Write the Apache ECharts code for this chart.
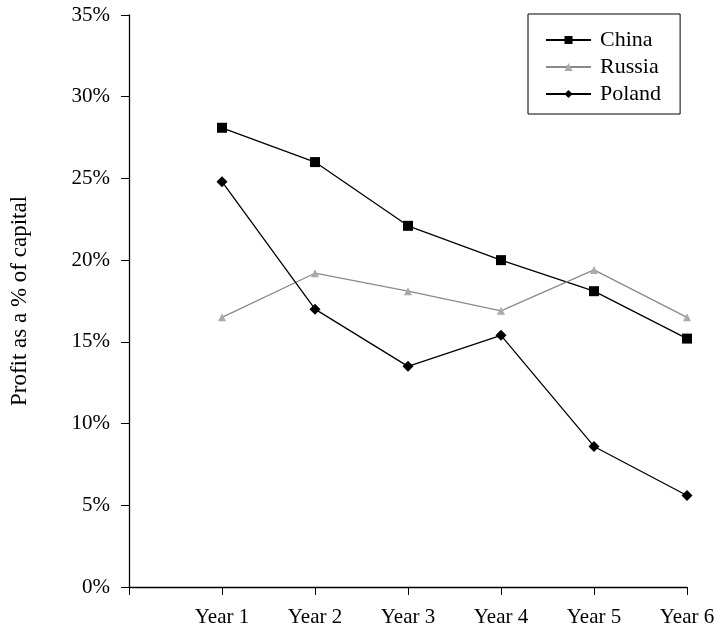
<!DOCTYPE html>
<html><head><meta charset="utf-8">
<script src="https://cdn.jsdelivr.net/npm/echarts@6/dist/echarts.min.js"></script>
<style>html,body{margin:0;padding:0;background:#fff}#c{width:715px;height:631px}</style>
</head><body><div id="c"></div>
<script>
const categories = ["", "Year 1", "Year 2", "Year 3", "Year 4", "Year 5", "Year 6"];
const china = [null, 28.1, 26.0, 22.1, 20.0, 18.1, 15.2];
const russia = [null, 16.5, 19.2, 18.1, 16.9, 19.4, 16.5];
const poland = [null, 24.8, 17.0, 13.5, 15.4, 8.6, 5.6];
const yTicks = [0, 5, 10, 15, 20, 25, 30, 35];

const font = "'Liberation Serif', 'DejaVu Serif', serif";
const chart = echarts.init(document.getElementById('c'));
chart.setOption({
  animation: false,
  textStyle: { fontFamily: font, color: '#000' },
  grid: { left: 129, right: 28, top: 15, bottom: 44, outerBoundsMode: 'none', containLabel: false },
  legend: {
    orient: 'vertical', left: 528, top: 14,
    padding: [15, 19, 9, 17],
    itemWidth: 45, itemHeight: 10, itemGap: 5,
    borderColor: '#000', borderWidth: 1,
    textStyle: { fontFamily: font, fontSize: 22, color: '#000', padding: [0, 0, 0, 4] },
    data: ['China', 'Russia', 'Poland']
  },
  xAxis: {
    type: 'category', data: categories, boundaryGap: false,
    axisLine: { lineStyle: { color: '#000', width: 1.3 } },
    axisTick: { show: true, length: 8, interval: 0, lineStyle: { color: '#000' } },
    axisLabel: { interval: 0, fontSize: 21, color: '#000', margin: 20, fontFamily: font },
    splitLine: { show: false }
  },
  yAxis: {
    type: 'value', min: 0, max: 35, interval: 5,
    name: 'Profit as a % of capital', nameLocation: 'middle', nameGap: 98,
    nameTextStyle: { fontSize: 23, color: '#000', fontFamily: font },
    axisLine: { show: true, lineStyle: { color: '#000', width: 1.3 } },
    axisTick: { show: true, length: 8, lineStyle: { color: '#000' } },
    axisLabel: { fontSize: 21, color: '#000', margin: 19, fontFamily: font,
      formatter: v => yTicks.includes(v) ? v + '%' : '' },
    splitLine: { show: false }
  },
  series: [
    { name: 'China', type: 'line', data: china, symbol: 'rect', symbolSize: 10,
      lineStyle: { color: '#000', width: 1.3 }, itemStyle: { color: '#000' } },
    { name: 'Russia', type: 'line', data: russia, symbol: 'triangle', symbolSize: 8,
      lineStyle: { color: '#8a8a8a', width: 1.3 }, itemStyle: { color: '#aaa' } },
    { name: 'Poland', type: 'line', data: poland, symbol: 'diamond', symbolSize: 11,
      lineStyle: { color: '#000', width: 1.3 }, itemStyle: { color: '#000' } }
  ]
});
</script></body></html>
